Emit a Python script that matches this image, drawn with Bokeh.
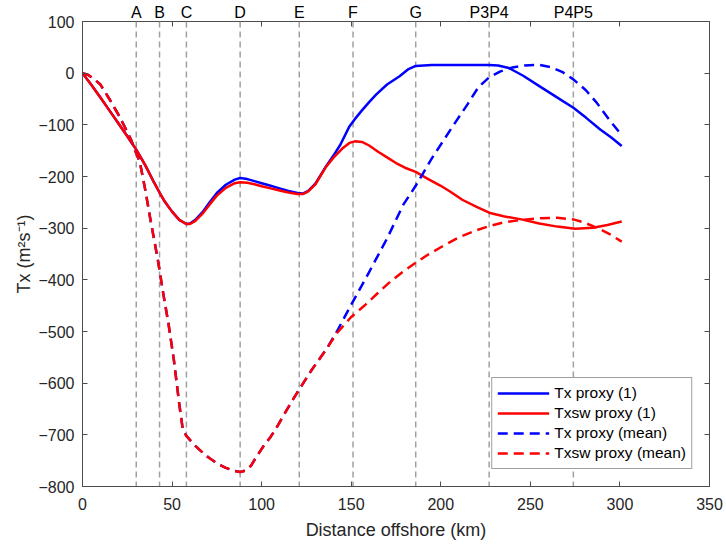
from bokeh.plotting import figure
from bokeh.models import Range1d, FixedTicker, LinearAxis, Span
from bokeh.embed import file_html
from bokeh.resources import INLINE

# ---- data ----
station_names = ["A", "B", "C", "D", "E", "F", "G", "P3P4", "P4P5"]
station_x = [30, 43, 58, 88, 121, 151, 186, 227, 274]

x_tx1 = [0, 5, 10, 15, 20, 25, 30, 35, 40, 43, 46, 50, 54, 58, 60, 63, 67, 71, 75, 80,
         85, 88, 92, 96, 100, 105, 110, 115, 120, 123, 126, 130, 136, 140, 144, 149, 152, 156, 160, 164,
         170, 177, 182, 186, 195, 205, 215, 227, 232, 238, 246, 255, 264, 274, 281, 289, 295, 301]
y_tx1 = [0, -23, -47, -72, -97, -122, -148, -178, -212, -231, -249, -268, -284, -292, -291, -284, -269, -250, -232, -216,
         -206, -203, -205, -209, -213, -218, -223, -228, -232, -233, -228, -214, -180, -160, -138, -103, -89, -72, -56, -41,
         -22, -6, 8, 14, 16, 16, 16, 16, 15, 10, -5, -25, -45, -67, -86, -109, -124, -141]

x_txsw1 = [0, 5, 10, 15, 20, 25, 30, 35, 40, 43, 46, 50, 54, 58, 60, 63, 67, 71, 75, 80,
           85, 88, 92, 96, 100, 105, 110, 115, 120, 123, 126, 130, 136, 140, 145, 149, 152, 156, 160, 165,
           170, 175, 180, 186, 193, 200, 206, 212, 220, 227, 235, 245, 255, 265, 275, 285, 293, 301]
y_txsw1 = [0, -23, -47, -72, -97, -122, -148, -178, -212, -231, -249, -268, -284, -292, -292, -286, -272, -254, -237, -222,
           -213, -211, -212, -215, -219, -223, -227, -231, -234, -234, -229, -215, -181, -164, -146, -135, -132, -133, -140, -152,
           -163, -174, -183, -191, -205, -218, -231, -245, -259, -270, -277, -283, -291, -297, -301, -299, -294, -287]

x_txm = [0, 3, 6, 10, 15, 20, 23, 27, 30, 32, 35, 38, 42, 45, 48, 51, 54, 56, 58, 62,
         66, 70, 75, 80, 84, 88, 91, 94, 97, 101, 105, 108, 112, 116, 121, 128, 136, 142, 150, 160,
         170, 179, 186, 195, 207, 215, 221, 227, 233, 240, 247, 255, 262, 268, 274, 281, 287, 294, 301]
y_txm = [0, -3, -10, -22, -50, -80, -100, -128, -155, -172, -225, -285, -360, -425, -485, -555, -640, -690, -702, -718,
         -731, -743, -755, -764, -769, -772, -769, -760, -743, -722, -704, -688, -664, -640, -612, -574, -535, -500, -448, -385,
         -320, -255, -218, -165, -101, -60, -27, -8, 3, 11, 15, 16, 11, 2, -12, -33, -57, -90, -120]

x_txswm = [0, 3, 6, 10, 15, 20, 23, 27, 30, 32, 35, 38, 42, 45, 48, 51, 54, 56, 58, 62,
           66, 70, 75, 80, 84, 88, 91, 94, 97, 101, 105, 108, 112, 116, 121, 128, 136, 142, 150, 158,
           165, 172, 179, 186, 193, 200, 210, 220, 227, 235, 245, 255, 265, 274, 280, 287, 294, 301]
y_txswm = [0, -3, -10, -22, -50, -80, -100, -128, -155, -172, -225, -285, -360, -425, -485, -555, -640, -690, -702, -718,
           -731, -743, -755, -764, -769, -772, -769, -760, -743, -722, -704, -688, -664, -640, -612, -574, -535, -503, -472, -448,
           -425, -403, -384, -367, -351, -337, -318, -304, -296, -289, -284, -281, -280, -283, -289, -299, -311, -326]

x_ticks = [0, 50, 100, 150, 200, 250, 300, 350]
y_ticks = [-800, -700, -600, -500, -400, -300, -200, -100, 0, 100]

FONT = "Liberation Sans"
AX = "#4d4d4d"
TXT = "#262626"

p = figure(width=724, height=543, output_backend="svg", toolbar_location=None,
           x_range=Range1d(0, 350), y_range=Range1d(-800, 100),
           min_border_left=82, min_border_right=15, min_border_top=21, min_border_bottom=57)
p.xgrid.visible = False
p.ygrid.visible = False
p.outline_line_color = AX
p.outline_line_width = 1
p.background_fill_color = "white"
p.border_fill_color = "white"

for ax in (p.xaxis[0], p.yaxis[0]):
    ax.axis_line_color = AX
    ax.major_tick_line_color = AX
    ax.major_tick_in = 5
    ax.major_tick_out = 0
    ax.minor_tick_line_color = None
    ax.major_label_text_font = FONT
    ax.major_label_text_font_size = "16px"
    ax.major_label_text_color = TXT
    ax.axis_label_text_font = FONT
    ax.axis_label_text_font_size = "18px"
    ax.axis_label_text_font_style = "normal"
    ax.axis_label_text_color = TXT

p.xaxis[0].ticker = FixedTicker(ticks=x_ticks)
p.yaxis[0].ticker = FixedTicker(ticks=y_ticks)
p.xaxis[0].axis_label = "Distance offshore (km)"
p.yaxis[0].axis_label = "Tx (m²s⁻¹)"
p.xaxis[0].major_label_standoff = 11
p.xaxis[0].axis_label_standoff = 7
p.yaxis[0].major_label_standoff = 8
p.yaxis[0].axis_label_standoff = 1

# top axis: station names as labels, box ticks as minor ticks
top_ax = LinearAxis(ticker=FixedTicker(ticks=station_x, minor_ticks=x_ticks),
                    axis_line_color=None,
                    major_tick_line_color=None, major_tick_in=0, major_tick_out=0,
                    minor_tick_line_color=AX, minor_tick_in=5, minor_tick_out=0,
                    major_label_overrides={sx: nm for sx, nm in zip(station_x, station_names)},
                    major_label_text_font=FONT, major_label_text_font_size="16px",
                    major_label_text_color="#000000", major_label_standoff=1)
# right axis: box ticks only
right_ax = LinearAxis(ticker=FixedTicker(ticks=[], minor_ticks=y_ticks),
                      axis_line_color=None,
                      major_tick_line_color=None, major_tick_in=0, major_tick_out=0,
                      minor_tick_line_color=AX, minor_tick_in=5, minor_tick_out=0,
                      major_label_standoff=0)
p.add_layout(top_ax, "above")
p.add_layout(right_ax, "right")

for sx in station_x:
    p.add_layout(Span(location=sx, dimension="height", line_color="#a0a0a0",
                      line_width=1.5, line_dash="6 4", level="underlay"))

lw = 2.5
p.line(x_tx1, y_tx1, line_color="#0000ff", line_width=lw, line_join="round",
       legend_label="Tx proxy (1)")
p.line(x_txsw1, y_txsw1, line_color="#ff0000", line_width=lw, line_join="round",
       legend_label="Txsw proxy (1)")
p.line(x_txm, y_txm, line_color="#0000ff", line_width=lw, line_dash="10 6",
       line_join="round", legend_label="Tx proxy (mean)")
p.line(x_txswm, y_txswm, line_color="#ff0000", line_width=lw, line_dash="10 6",
       line_join="round", legend_label="Txsw proxy (mean)")

lg = p.legend[0]
lg.location = "bottom_right"
lg.margin = 17
lg.padding = 5
lg.spacing = 0
lg.label_height = 20
lg.glyph_height = 20
lg.glyph_width = 52
lg.label_standoff = 5
lg.label_text_font = FONT
lg.label_text_font_size = "15.5px"
lg.label_text_color = "#000000"
lg.border_line_color = "#404040"
lg.border_line_width = 1
lg.background_fill_color = "white"
lg.background_fill_alpha = 1.0

open("out.html", "w").write(file_html(p, INLINE))
